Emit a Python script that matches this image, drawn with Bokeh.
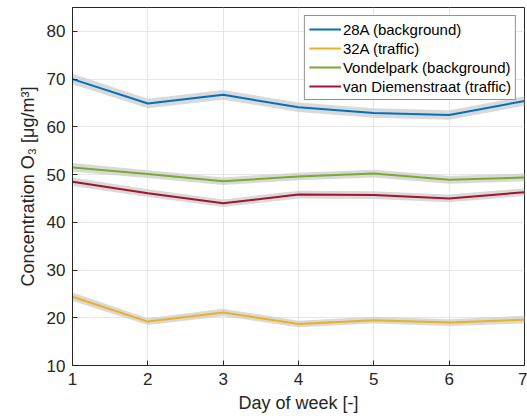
from bokeh.plotting import figure
from bokeh.models import Range1d, FixedTicker, Legend, LegendItem
from bokeh.embed import file_html
from bokeh.resources import INLINE

days = [1, 2, 3, 4, 5, 6, 7]
s28a = [70.0, 64.9, 66.7, 64.1, 62.9, 62.5, 65.4]
s32a = [24.4, 19.2, 21.1, 18.7, 19.5, 19.0, 19.6]
vondel = [51.5, 50.1, 48.6, 49.6, 50.2, 48.9, 49.4]
diemen = [48.5, 46.1, 44.0, 45.8, 45.7, 45.0, 46.3]
ci28a = [1.1, 1.0, 1.0, 1.0, 1.0, 1.0, 1.0]
ci32a = [0.9, 0.7, 0.8, 0.7, 0.7, 0.7, 0.8]
civon = [0.9, 0.8, 0.8, 0.8, 0.8, 0.8, 0.8]
cidie = [0.9, 0.8, 0.8, 0.8, 0.8, 0.8, 0.8]
names = ["28A (background)", "32A (traffic)", "Vondelpark (background)", "van Diemenstraat (traffic)"]
colors = ["#0072BD", "#EDB120", "#77AC30", "#A2142F"]
yticks = [10, 20, 30, 40, 50, 60, 70, 80]

FONT = "Liberation Sans"
TXT = "#262626"

p = figure(width=527, height=418, output_backend="svg", toolbar_location=None,
           x_range=Range1d(1, 7), y_range=Range1d(10, 85),
           min_border_left=72, min_border_right=3, min_border_top=7, min_border_bottom=53)
p.background_fill_color = "white"
p.border_fill_color = "white"
p.outline_line_color = "#262626"
p.outline_line_width = 1

for ax in (p.xaxis[0], p.yaxis[0]):
    ax.major_label_text_font = FONT
    ax.major_label_text_font_size = "17px"
    ax.major_label_text_color = TXT
    ax.axis_label_text_font = FONT
    ax.axis_label_text_font_size = "18px"
    ax.axis_label_text_font_style = "normal"
    ax.axis_label_text_color = TXT
    ax.axis_line_color = "#262626"
    ax.major_tick_line_color = "#262626"
    ax.major_tick_in = 5
    ax.major_tick_out = 0
    ax.minor_tick_line_color = None

p.xaxis.ticker = FixedTicker(ticks=days)
p.yaxis.ticker = FixedTicker(ticks=yticks)
p.xaxis.axis_label = "Day of week [-]"
p.yaxis.axis_label = "Concentration O\u2083 [\u03bcg/m\u00b3]"
p.xaxis.major_label_standoff = 7
p.yaxis.major_label_standoff = 7
p.xaxis.axis_label_standoff = 5
p.yaxis.axis_label_standoff = 6

p.xgrid.ticker = FixedTicker(ticks=days)
p.ygrid.ticker = FixedTicker(ticks=yticks)
p.grid.grid_line_color = "#e6e6e6"
p.grid.grid_line_width = 1

series = [s28a, s32a, vondel, diemen]
cis = [ci28a, ci32a, civon, cidie]
items = []
for s, c in zip(series, cis):
    lo = [v - e for v, e in zip(s, c)]
    hi = [v + e for v, e in zip(s, c)]
    p.varea(x=days, y1=lo, y2=hi, fill_color="#d0d0d0", fill_alpha=0.8)
for s, col, nm in zip(series, colors, names):
    r = p.line(days, s, line_color=col, line_width=2)
    items.append(LegendItem(label=nm, renderers=[r]))

leg = Legend(items=items, location="top_right")
leg.label_text_font = FONT
leg.label_text_font_size = "15px"
leg.label_text_color = "#000000"
leg.border_line_color = "#262626"
leg.border_line_width = 1
leg.background_fill_alpha = 1.0
leg.glyph_width = 32
leg.glyph_height = 18
leg.label_height = 18
leg.spacing = 1
leg.padding = 4
leg.margin = 8
leg.label_standoff = 2
p.add_layout(leg)

open("out.html", "w").write(file_html(p, INLINE))
